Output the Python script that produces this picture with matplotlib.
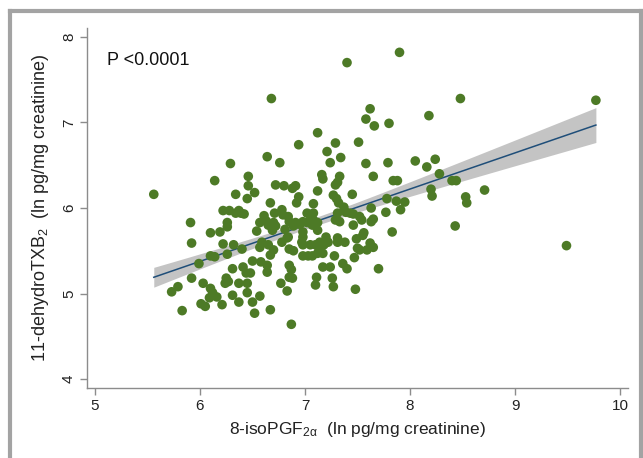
import numpy as np
import matplotlib
matplotlib.use("Agg")
import matplotlib.pyplot as plt
from matplotlib.lines import Line2D

plt.rcParams['font.family'] = ['Liberation Sans', 'DejaVu Sans']
plt.rcParams['mathtext.fontset'] = 'custom'
plt.rcParams['mathtext.rm'] = 'Liberation Sans'
plt.rcParams['mathtext.it'] = 'Liberation Sans:italic'

# 8-isoPGF2a (ln pg/mg creatinine)
iso_x = [
    7.40, 7.90, 6.68, 8.48, 9.77, 7.62, 7.58, 7.66, 7.80, 8.18,
    7.12, 6.94, 7.29, 7.51, 7.21, 6.64, 7.34, 6.76, 7.24, 7.58,
    7.79, 8.05, 8.24, 6.29, 8.16, 6.46, 7.16, 7.17, 7.33, 7.31,
    7.65, 8.28, 6.14, 7.84, 7.88, 8.40, 8.44, 6.46, 6.72, 6.80,
    6.88, 6.91, 7.29, 7.12, 8.20, 8.71, 6.52, 6.34, 5.56, 7.45,
    7.27, 6.94, 7.30, 6.45, 7.32, 6.92, 8.21, 8.53, 8.54, 7.78,
    7.87, 7.95, 6.67, 7.08, 7.37, 7.63, 7.91, 7.77, 6.22, 6.28,
    6.37, 6.39, 6.34, 6.42, 6.61, 6.71, 6.78, 6.79, 6.84, 6.85,
    6.89, 6.91, 6.95, 6.98, 7.02, 7.05, 7.07, 7.02, 7.05, 7.08,
    6.63, 6.65, 6.70, 6.72, 6.69, 7.08, 7.12, 7.31, 7.39, 7.43,
    7.52, 7.54, 7.65, 7.63, 5.91, 6.26, 6.26, 6.10, 6.19, 8.43,
    7.83, 6.57, 6.54, 7.46, 7.46, 7.29, 7.33, 6.81, 6.84, 6.98,
    6.98, 7.12, 7.56, 6.97, 6.98, 6.78, 6.83, 6.59, 6.57, 6.65,
    6.70, 6.67, 7.05, 7.10, 7.13, 7.14, 7.18, 7.22, 7.31, 7.31,
    7.38, 7.49, 7.50, 7.52, 7.62, 7.65, 7.59, 6.85, 6.89, 6.98,
    7.03, 7.07, 7.12, 7.17, 7.28, 5.92, 6.22, 6.32, 6.40, 6.26,
    6.10, 6.14, 7.20, 7.55, 6.50, 6.58, 6.64, 5.99, 6.41, 6.44,
    6.48, 6.31, 7.36, 7.40, 7.47, 6.85, 6.87, 7.17, 7.24, 6.64,
    7.70, 6.85, 6.88, 7.11, 7.26, 6.77, 7.10, 7.27, 6.83, 7.48,
    6.57, 6.67, 6.87, 5.92, 5.79, 5.73, 6.03, 6.10, 6.12, 6.09,
    6.16, 6.25, 6.27, 6.24, 6.37, 6.45, 6.31, 6.45, 6.01, 6.05,
    6.21, 6.37, 5.83, 6.52, 6.50, 9.49,
]

# 11-dehydroTXB2 (ln pg/mg creatinine)
txb_y = [
    7.70, 7.82, 7.28, 7.28, 7.26, 7.16, 7.04, 6.96, 6.99, 7.08,
    6.88, 6.74, 6.76, 6.77, 6.66, 6.60, 6.59, 6.53, 6.53, 6.52,
    6.53, 6.55, 6.57, 6.52, 6.48, 6.37, 6.39, 6.34, 6.37, 6.30,
    6.37, 6.40, 6.32, 6.32, 6.32, 6.32, 6.32, 6.26, 6.27, 6.26,
    6.23, 6.26, 6.27, 6.20, 6.22, 6.21, 6.18, 6.16, 6.16, 6.16,
    6.15, 6.13, 6.11, 6.11, 6.06, 6.06, 6.14, 6.13, 6.06, 6.11,
    6.08, 6.07, 6.06, 6.05, 6.01, 6.00, 5.98, 5.95, 5.97, 5.97,
    5.97, 5.94, 5.94, 5.93, 5.91, 5.94, 5.98, 5.92, 5.90, 5.84,
    5.79, 5.83, 5.81, 5.84, 5.83, 5.84, 5.80, 5.94, 5.92, 5.94,
    5.85, 5.80, 5.83, 5.79, 5.74, 5.86, 5.83, 5.94, 5.95, 5.94,
    5.90, 5.86, 5.87, 5.84, 5.83, 5.83, 5.78, 5.71, 5.72, 5.79,
    5.72, 5.83, 5.73, 5.93, 5.80, 5.86, 5.84, 5.75, 5.66, 5.72,
    5.66, 5.74, 5.71, 5.60, 5.57, 5.60, 5.65, 5.60, 5.54, 5.57,
    5.51, 5.45, 5.57, 5.57, 5.54, 5.60, 5.57, 5.60, 5.65, 5.60,
    5.60, 5.64, 5.53, 5.51, 5.59, 5.54, 5.51, 5.52, 5.50, 5.44,
    5.44, 5.44, 5.47, 5.47, 5.44, 5.59, 5.58, 5.57, 5.52, 5.46,
    5.44, 5.43, 5.66, 5.68, 5.38, 5.37, 5.33, 5.35, 5.31, 5.24,
    5.24, 5.29, 5.35, 5.29, 5.42, 5.33, 5.28, 5.31, 5.31, 5.25,
    5.29, 5.19, 5.18, 5.19, 5.18, 5.12, 5.10, 5.08, 5.03, 5.05,
    4.97, 4.81, 4.64, 5.18, 5.08, 5.02, 5.12, 5.06, 5.01, 4.95,
    4.96, 5.18, 5.14, 5.12, 5.12, 5.12, 4.98, 5.01, 4.88, 4.85,
    4.87, 4.90, 4.80, 4.77, 4.90, 5.56,
]

# fitted line and 95% CI half-width at its two ends
fit_x_ends = [5.56, 9.77]
fit_y_ends = [5.19, 6.97]
ci_half_ends = [0.118, 0.200]

x_ticks = [5, 6, 7, 8, 9, 10]
y_ticks = [4, 5, 6, 7, 8]
p_text = "P <0.0001"

x = np.array(iso_x)
y = np.array(txb_y)
n = len(x)

# regression line through the read end values
slope = (fit_y_ends[1] - fit_y_ends[0]) / (fit_x_ends[1] - fit_x_ends[0])
xs = np.linspace(fit_x_ends[0], fit_x_ends[1], 200)
yhat = fit_y_ends[0] + slope * (xs - fit_x_ends[0])

# CI band shape of a mean prediction (from the data), scaled to the read end widths
xbar = x.mean()
sxx = np.sum((x - xbar) ** 2)
shape = lambda v: np.sqrt(1.0 / n + (np.asarray(v) - xbar) ** 2 / sxx)
c = np.mean(np.array(ci_half_ends) / shape(fit_x_ends))
hw = c * shape(xs)

fig = plt.figure(figsize=(6.43, 4.58), dpi=100)
ax = fig.add_axes([0.1353, 0.1528, 0.8414, 0.7861])

ax.fill_between(xs, yhat - hw, yhat + hw, color='#c4c4c4', lw=0, zorder=2)
ax.plot(xs, yhat, color='#1f4e79', lw=1.1, zorder=3)
ax.scatter(x, y, s=48, color='#4d7a26', edgecolors='none', zorder=4)

ax.set_xlim(4.924, 10.076)
ax.set_ylim(3.895, 8.105)
ax.set_xticks(x_ticks)
ax.set_yticks(y_ticks)
ax.set_xticklabels([str(v) for v in x_ticks], fontsize=11)
ax.set_yticklabels([str(v) for v in y_ticks], fontsize=11, rotation=90, va='center')

for side in ['top', 'right']:
    ax.spines[side].set_visible(False)
for side in ['left', 'bottom']:
    ax.spines[side].set_color('#8c8c8c')
    ax.spines[side].set_linewidth(1.0)
ax.tick_params(axis='both', colors='#8c8c8c', length=5, width=1.0, labelcolor='#222222', pad=3)

ax.set_xlabel(r'8-isoPGF$_{\mathrm{2α}}$  (ln pg/mg creatinine)', fontsize=12.5, color='#222222', labelpad=5)
ax.set_ylabel(r'11-dehydroTXB$_{\mathrm{2}}$  (ln pg/mg creatinine)', fontsize=13, color='#222222', labelpad=8)

ax.text(5.115, 7.73, p_text, fontsize=13, color='#111111', ha='left', va='center')

# gray frame around the figure
fc = '#a3a3a3'
fig.add_artist(Line2D([10 / 643, 10 / 643], [0, 1 - 11 / 458], transform=fig.transFigure, color=fc, lw=3))
fig.add_artist(Line2D([10 / 643, 641 / 643], [1 - 11 / 458, 1 - 11 / 458], transform=fig.transFigure, color=fc, lw=3))
fig.add_artist(Line2D([641 / 643, 641 / 643], [0, 1 - 11 / 458], transform=fig.transFigure, color=fc, lw=3))

fig.savefig('out.png', dpi=100, facecolor='white')
